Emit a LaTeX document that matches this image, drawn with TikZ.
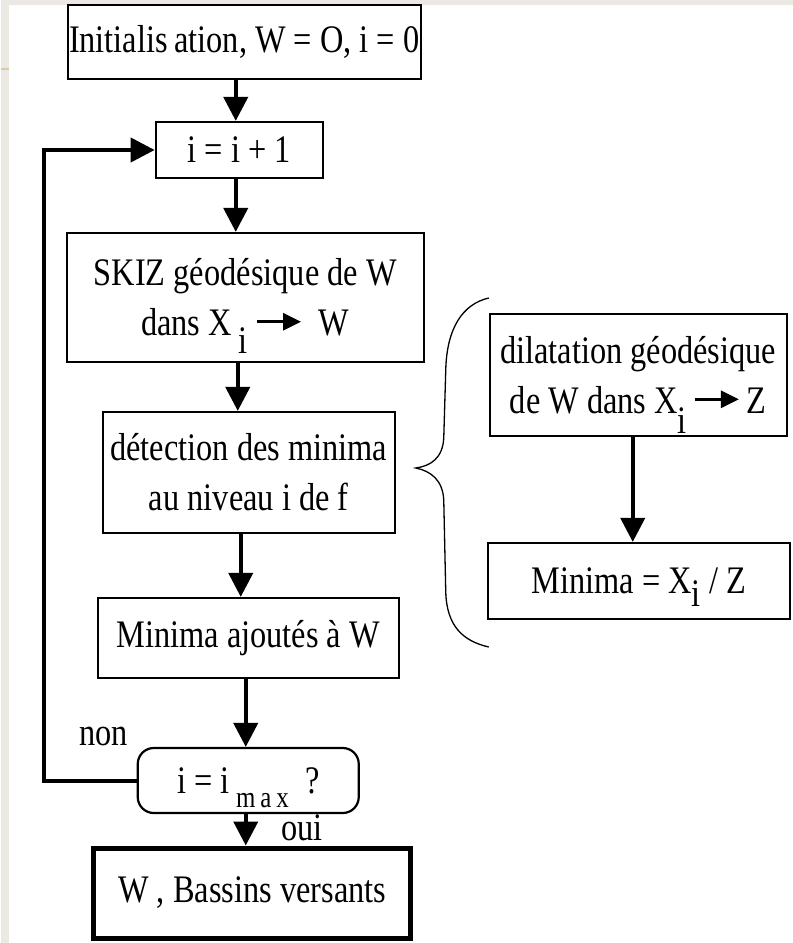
\documentclass[tikz,border=0pt]{standalone}
\usepackage{fontspec}
\setmainfont{Liberation Serif}[FakeStretch=0.83]
\usetikzlibrary{arrows.meta,calc}
\definecolor{stripbeige}{HTML}{ECE8E3}
\definecolor{tanrule}{HTML}{D8CBA8}
% lowered index written at text size
\newcommand\lowered[2]{\raisebox{-#1pt}[0pt][0pt]{#2}}
% small arrow used inside the box texts
\newcommand\maparrow{\tikz[x=1pt,y=1pt,baseline=-14pt]\draw[line width=3pt,-{Triangle[width=17pt,length=18pt]}] (0,0)--(44,0);}
\begin{document}
\begin{tikzpicture}[x=1pt,y=-1pt,
  box/.style={draw, line width=2.2pt, inner sep=0pt, align=center,
    font=\fontsize{39}{50}\selectfont},
  flow/.style={line width=4pt, -{Triangle[width=24pt,length=24pt]}},
  lbl/.style={inner sep=0pt, font=\fontsize{39}{50}\selectfont}]

% page background and side strips
\fill[white] (0,0) rectangle (792,943);
\fill[stripbeige] (0,0) rectangle (792,5);
\fill[stripbeige] (0,0) rectangle (8,943);
\draw[tanrule, line width=1.5pt] (0,69) -- (8,69);
\useasboundingbox (0,0) rectangle (792,943);

% main column
\node[box, minimum width=353pt, minimum height=74pt] (init) at (243.5,42)
  {Initialis\,ation, W = O, i = 0};
\node[box, minimum width=167pt, minimum height=56pt] (incr) at (238.5,150)
  {i = i + 1};
\node[box, minimum width=357pt, minimum height=129pt] (skiz) at (244.5,297.5)
  {SKIZ géodésique de W\\ dans X\,\lowered{18}{i}\ \maparrow\ \ W};
\node[box, minimum width=292pt, minimum height=121pt] (detect) at (248,472.5)
  {détection des minima\\ au niveau i de f};
\node[box, minimum width=301pt, minimum height=80pt] (added) at (247.5,638)
  {Minima ajoutés à W};
\node[box, rounded corners=16pt, minimum width=221pt, minimum height=65pt] (test) at (247.5,780.5)
  {i = i\,\lowered{14}{\fontsize{30}{30}\selectfont m\,a\,x}\ \ ?};
\node[box, line width=5pt, minimum width=317pt, minimum height=90pt] (result) at (251.5,893)
  {W , Bassins versants};

% detail of the minima detection
\node[box, minimum width=297pt, minimum height=122pt] (dil) at (637.5,375)
  {dilatation géodésique\\ de W dans X\lowered{20}{i}\,\maparrow\,Z};
\node[box, minimum width=302pt, minimum height=76pt] (minr) at (638,581)
  {Minima = X\lowered{13}{i} / Z};

% branch labels
\node[lbl] (non) at (103,736) {non};
\node[lbl] (oui) at (301,828) {oui};

% arrow columns
\coordinate (c1) at (235,0);
\coordinate (c2) at (237,0);
\coordinate (c3) at (240,0);
\coordinate (c4) at (245,0);
\coordinate (c5) at (632,0);
\coordinate (loop) at (43,450);

\draw[flow] (init.south -| c1) -- (incr.north -| c1);
\draw[flow] (incr.south -| c1) -- (skiz.north -| c1);
\draw[flow] (skiz.south -| c2) -- (detect.north -| c2);
\draw[flow] (detect.south -| c3) -- (added.north -| c3);
\draw[flow] (added.south -| c4) -- (test.north -| c4);
\draw[flow] (test.south -| c4) -- (result.north -| c4);
\draw[flow] (dil.south -| c5) -- (minr.north -| c5);
\draw[flow] (test.west) -| (loop) |- (incr.west);

% brace grouping the detail steps
\draw[line width=1.3pt]
  (488,298) .. controls (462,304) and (446,328) .. (445,370)
  -- (443,438) .. controls (442,458) and (430,466) .. (415,468)
  .. controls (430,471) and (442,480) .. (443,500)
  -- (445,592) .. controls (446,626) and (462,641) .. (488,647);
\end{tikzpicture}
\end{document}
